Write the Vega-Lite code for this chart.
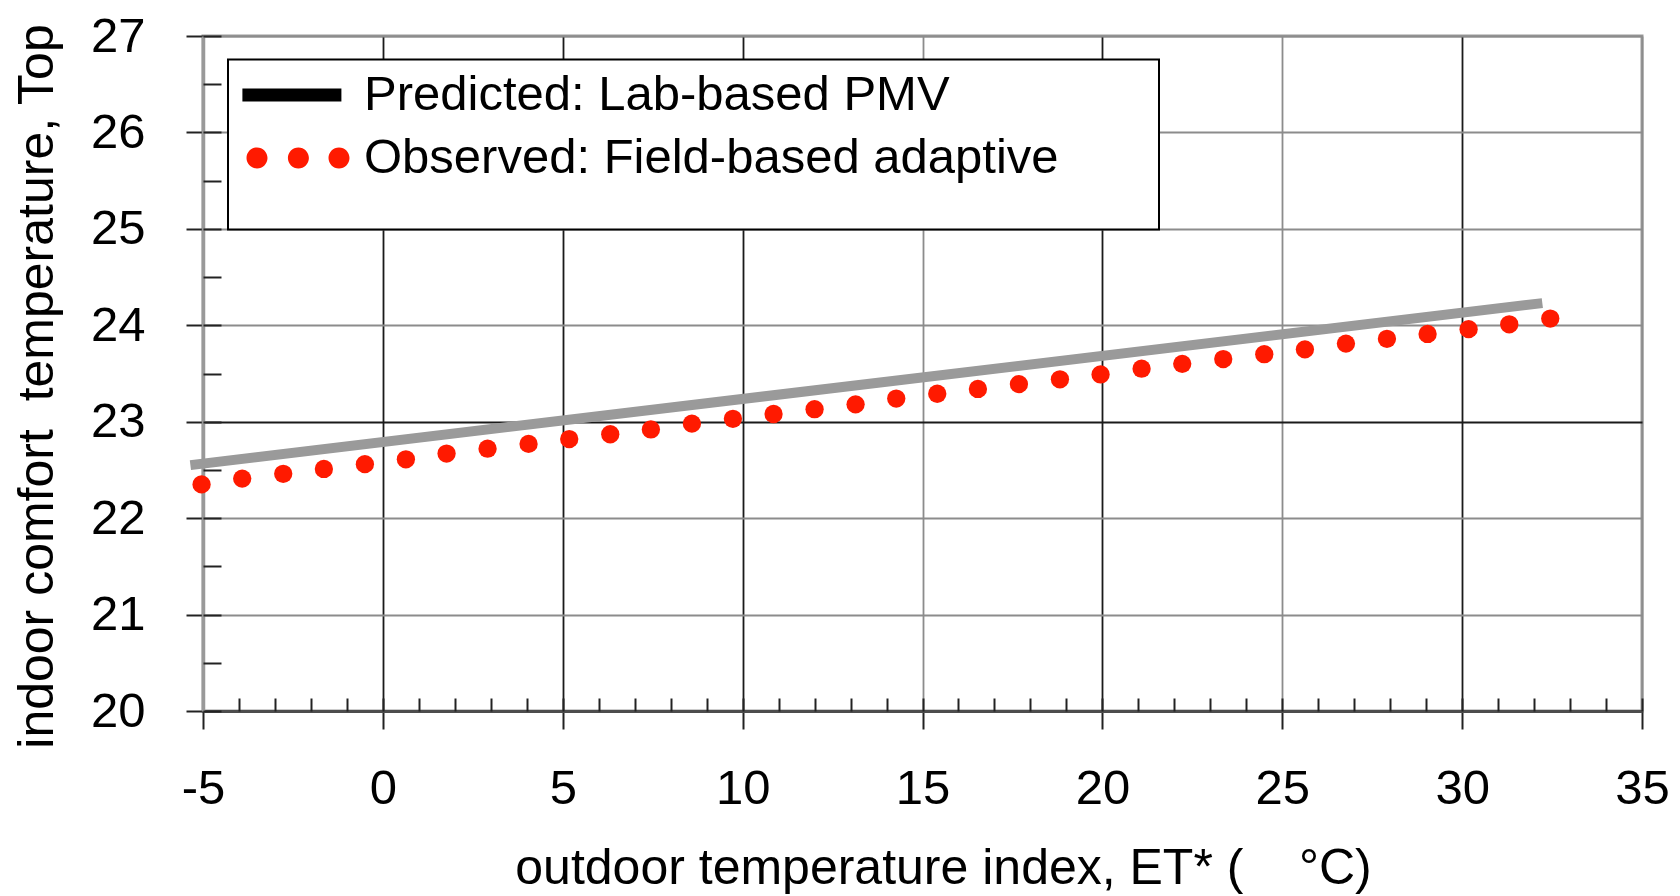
{
  "$schema": "https://vega.github.io/schema/vega-lite/v6.json",
  "width": 1439,
  "height": 675,
  "autosize": {"type": "none"},
  "padding": {"left": 203, "top": 36, "right": 38, "bottom": 185},
  "background": "white",
  "config": {
    "font": "Liberation Sans",
    "view": {"stroke": "#999999", "strokeWidth": 3},
    "axis": {
      "labelFont": "Liberation Sans",
      "titleFont": "Liberation Sans",
      "labelColor": "black",
      "titleColor": "black",
      "titleFontWeight": "normal",
      "labelFontSize": 49,
      "titleFontSize": 50,
      "labelFlush": false,
      "labelOverlap": false
    }
  },
  "datasets": {
    "predicted": [
      {"et": -5.35, "top": 22.55, "series": "Predicted: Lab-based PMV"},
      {"et": 32.23, "top": 24.23, "series": "Predicted: Lab-based PMV"}
    ],
    "observed": [
      {"et": -5.04, "top": 22.35, "series": "Observed: Field-based adaptive"},
      {"et": -3.91, "top": 22.41, "series": "Observed: Field-based adaptive"},
      {"et": -2.77, "top": 22.46, "series": "Observed: Field-based adaptive"},
      {"et": -1.64, "top": 22.51, "series": "Observed: Field-based adaptive"},
      {"et": -0.50, "top": 22.56, "series": "Observed: Field-based adaptive"},
      {"et": 0.64, "top": 22.61, "series": "Observed: Field-based adaptive"},
      {"et": 1.77, "top": 22.67, "series": "Observed: Field-based adaptive"},
      {"et": 2.91, "top": 22.72, "series": "Observed: Field-based adaptive"},
      {"et": 4.05, "top": 22.77, "series": "Observed: Field-based adaptive"},
      {"et": 5.18, "top": 22.82, "series": "Observed: Field-based adaptive"},
      {"et": 6.32, "top": 22.87, "series": "Observed: Field-based adaptive"},
      {"et": 7.45, "top": 22.92, "series": "Observed: Field-based adaptive"},
      {"et": 8.59, "top": 22.98, "series": "Observed: Field-based adaptive"},
      {"et": 9.73, "top": 23.03, "series": "Observed: Field-based adaptive"},
      {"et": 10.86, "top": 23.08, "series": "Observed: Field-based adaptive"},
      {"et": 12.00, "top": 23.13, "series": "Observed: Field-based adaptive"},
      {"et": 13.14, "top": 23.18, "series": "Observed: Field-based adaptive"},
      {"et": 14.27, "top": 23.24, "series": "Observed: Field-based adaptive"},
      {"et": 15.41, "top": 23.29, "series": "Observed: Field-based adaptive"},
      {"et": 16.54, "top": 23.34, "series": "Observed: Field-based adaptive"},
      {"et": 17.68, "top": 23.39, "series": "Observed: Field-based adaptive"},
      {"et": 18.82, "top": 23.44, "series": "Observed: Field-based adaptive"},
      {"et": 19.95, "top": 23.49, "series": "Observed: Field-based adaptive"},
      {"et": 21.09, "top": 23.55, "series": "Observed: Field-based adaptive"},
      {"et": 22.22, "top": 23.60, "series": "Observed: Field-based adaptive"},
      {"et": 23.36, "top": 23.65, "series": "Observed: Field-based adaptive"},
      {"et": 24.50, "top": 23.70, "series": "Observed: Field-based adaptive"},
      {"et": 25.63, "top": 23.75, "series": "Observed: Field-based adaptive"},
      {"et": 26.77, "top": 23.81, "series": "Observed: Field-based adaptive"},
      {"et": 27.91, "top": 23.86, "series": "Observed: Field-based adaptive"},
      {"et": 29.04, "top": 23.91, "series": "Observed: Field-based adaptive"},
      {"et": 30.18, "top": 23.96, "series": "Observed: Field-based adaptive"},
      {"et": 31.31, "top": 24.01, "series": "Observed: Field-based adaptive"},
      {"et": 32.45, "top": 24.07, "series": "Observed: Field-based adaptive"}
    ]
  },
  "resolve": {"axis": {"x": "independent", "y": "independent"}},
  "layer": [
    {
      "data": {"name": "predicted"},
      "mark": {"type": "line", "color": "#9a9a9a", "strokeWidth": 10, "strokeCap": "butt"},
      "encoding": {
        "x": {
          "field": "et", "type": "quantitative",
          "scale": {"domain": [-5, 35], "nice": false, "zero": false},
          "axis": {
            "orient": "bottom",
            "values": [-5, 0, 5, 10, 15, 20, 25, 30, 35],
            "labelExpr": "toString(datum.value)",
            "grid": true,
            "gridColor": {"condition": {"test": "datum.value === 15 || datum.value === 25 || datum.value === 35 || datum.value === -5", "value": "#8c8c8c"}, "value": "#1a1a1a"},
            "gridWidth": 1.8,
            "domainColor": "#4d4d4d",
            "domainWidth": 3,
            "tickColor": "#222222",
            "tickWidth": 2,
            "tickSize": 18,
            "labelPadding": 35,
            "title": "outdoor temperature index, ET* (\u00a0\u00a0\u00a0 °C)",
            "titleBaseline": "alphabetic",
            "titleAlign": "center",
            "titleX": 740,
            "titleY": 172
          }
        },
        "y": {
          "field": "top", "type": "quantitative",
          "scale": {"domain": [20, 27], "nice": false, "zero": false},
          "axis": {
            "orient": "left",
            "values": [20, 21, 22, 23, 24, 25, 26, 27],
            "grid": true,
            "gridColor": {"condition": {"test": "datum.value === 23", "value": "#1a1a1a"}, "value": "#8c8c8c"},
            "gridWidth": 1.8,
            "domainColor": "#999999",
            "domainWidth": 3.5,
            "tickColor": "#222222",
            "tickWidth": 2,
            "tickSize": 17,
            "labelPadding": 41,
            "title": "indoor comfort\u00a0 temperature, Top",
            "titleAngle": 270,
            "titleBaseline": "alphabetic",
            "titleAlign": "center",
            "titleX": -151,
            "titleY": 350
          }
        }
      }
    },
    {
      "data": {"name": "observed"},
      "mark": {"type": "point", "filled": true, "size": 335, "opacity": 1, "shape": "circle"},
      "encoding": {
        "x": {
          "field": "et", "type": "quantitative",
          "axis": {
            "orient": "bottom",
            "values": [-5, -4, -3, -2, -1, 0, 1, 2, 3, 4, 5, 6, 7, 8, 9, 10, 11, 12, 13, 14, 15, 16, 17, 18, 19, 20, 21, 22, 23, 24, 25, 26, 27, 28, 29, 30, 31, 32, 33, 34, 35],
            "grid": false, "domain": false, "labels": false,
            "tickColor": "#222222", "tickWidth": 2, "tickSize": -13,
            "title": null
          }
        },
        "y": {
          "field": "top", "type": "quantitative",
          "axis": {
            "orient": "left",
            "values": [20, 20.5, 21, 21.5, 22, 22.5, 23, 23.5, 24, 24.5, 25, 25.5, 26, 26.5, 27],
            "grid": false, "domain": false, "labels": false,
            "tickColor": "#222222", "tickWidth": 2, "tickSize": -18,
            "title": null
          }
        },
        "color": {
          "field": "series", "type": "nominal",
          "scale": {"domain": ["Predicted: Lab-based PMV", "Observed: Field-based adaptive"], "range": ["black", "#ff1a00"]},
          "legend": {
            "orient": "none",
            "direction": "vertical",
            "legendX": 25,
            "legendY": 23.5,
            "title": "\u200b\u00a0\u00a0\u00a0\u00a0\u00a0\u00a0\u00a0\u00a0\u00a0\u00a0\u00a0\u00a0\u00a0\u00a0\u00a0\u00a0\u00a0\u00a0\u00a0\u00a0\u00a0\u00a0\u00a0\u00a0\u00a0\u00a0\u00a0\u00a0\u00a0\u00a0\u00a0\u00a0\u00a0\u00a0\u00a0\u00a0\u00a0\u00a0\u00a0\u00a0\u00a0\u00a0\u00a0\u00a0\u00a0\u00a0\u00a0\u00a0\u00a0\u00a0\u00a0\u00a0\u00a0\u00a0\u00a0\u00a0\u00a0\u00a0\u00a0\u00a0\u00a0\u00a0\u00a0\u00a0\u00a0\u00a0\u00a0\u00a0\u00a0\u00a0\u00a0\u00a0\u00a0\u00a0\u00a0\u00a0\u00a0\u00a0\u00a0\u00a0\u00a0\u00a0\u00a0\u00a0\u00a0\u00a0\u00a0\u00a0\u00a0\u00a0\u00a0\u00a0\u00a0\u00a0\u00a0\u00a0\u00a0\u00a0\u00a0\u00a0\u00a0\u00a0\u00a0\u00a0\u00a0\u00a0\u00a0\u00a0\u00a0\u200b",
            "titleOrient": "bottom",
            "titleFont": "Liberation Sans",
            "titleFontSize": 30,
            "titleColor": "white",
            "titlePadding": 5,
            "titleLimit": 2000,
            "padding": 11,
            "rowPadding": 13,
            "labelFont": "Liberation Sans",
            "labelFontSize": 49,
            "labelColor": "black",
            "labelLimit": 2000,
            "labelOffset": 76,
            "symbolSize": 400,
            "symbolStrokeWidth": 0,
            "symbolOpacity": 1,
            "strokeColor": "black",
            "fillColor": "white",
            "encode": {
              "legend": {"update": {"strokeWidth": {"value": 2}}},
              "symbols": {
                "update": {
                  "shape": [
                    {"test": "datum.value === 'Predicted: Lab-based PMV'", "value": "M-2.11,-0.65H7.79V0.65H-2.11Z"},
                    {"value": "M-1.7,0A1.05,1.05 0 1,0 0.4,0A1.05,1.05 0 1,0 -1.7,0Z M2.44,0A1.05,1.05 0 1,0 4.54,0A1.05,1.05 0 1,0 2.44,0Z M6.5,0A1.05,1.05 0 1,0 8.6,0A1.05,1.05 0 1,0 6.5,0Z"}
                  ],
                  "fill": [
                    {"test": "datum.value === 'Predicted: Lab-based PMV'", "value": "black"},
                    {"value": "#ff1a00"}
                  ],
                  "stroke": {"value": "transparent"},
                  "size": {"value": 400},
                  "opacity": {"value": 1}
                }
              }
            }
          }
        }
      }
    }
  ]
}
